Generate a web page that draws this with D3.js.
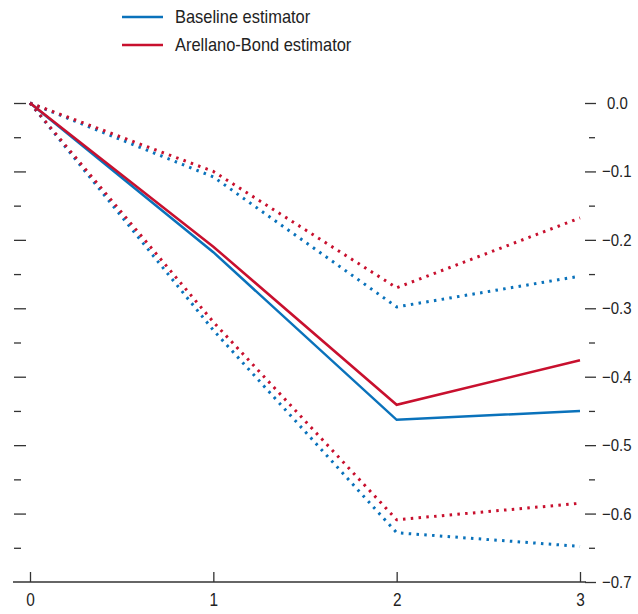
<!DOCTYPE html>
<html><head><meta charset="utf-8">
<script src="https://cdn.jsdelivr.net/npm/d3@7"></script>
<style>body{margin:0;background:#fff}svg{display:block}text{font-family:"Liberation Sans",Arial,sans-serif;fill:#222}</style>
</head><body><svg id="c" width="638" height="614"></svg>
<script>
const horizons = [0, 1, 2, 3];
const baseline = [0, -0.218, -0.463, -0.450];
const baselineUpper = [0, -0.108, -0.298, -0.253];
const baselineLower = [0, -0.332, -0.628, -0.648];
const arellano = [0, -0.210, -0.441, -0.376];
const arellanoUpper = [0, -0.100, -0.270, -0.168];
const arellanoLower = [0, -0.320, -0.609, -0.585];
const yTicks = [0, -0.1, -0.2, -0.3, -0.4, -0.5, -0.6, -0.7];
const yMinorTicks = [-0.05, -0.15, -0.25, -0.35, -0.45, -0.55, -0.65];
const legendLabels = ["Baseline estimator", "Arellano-Bond estimator"];
const BLUE = "#0a72bb", RED = "#c8102e";
const SX = 0.88;

const svg = d3.select("#c");
const x = d3.scaleLinear().domain([0, 3]).range([30, 580]);
const y = d3.scaleLinear().domain([0, -0.7]).range([103, 582]);

// right axis
const rightMajor = d3.axisRight(y).tickValues(yTicks).tickSize(11).tickPadding(4).tickFormat(d3.format(".1f"));
const gR = svg.append("g").attr("transform", "translate(585,0)").call(rightMajor);
gR.select(".domain").remove();
gR.selectAll("text").style("font-size", "17px")
  .attr("x", d => (d === 0 ? 22 : 17) / SX).attr("transform", `scale(${SX},1)`);
const gRm = svg.append("g").attr("transform", "translate(589,0)").call(d3.axisRight(y).tickValues(yMinorTicks).tickSize(6).tickFormat(""));
gRm.select(".domain").remove();

// left axis ticks (no labels)
const gL = svg.append("g").attr("transform", "translate(14,0)").call(d3.axisRight(y).tickValues(yTicks.slice(0, -1)).tickSize(12).tickFormat(""));
gL.select(".domain").remove();
const gLm = svg.append("g").attr("transform", "translate(14,0)").call(d3.axisRight(y).tickValues(yMinorTicks).tickSize(7).tickFormat(""));
gLm.select(".domain").remove();
svg.selectAll(".tick line").attr("stroke", "#333").attr("stroke-width", 1.3);

// x axis
const gX = svg.append("g").attr("transform", "translate(0,582)")
  .call(d3.axisBottom(x).tickValues(horizons).tickSize(-10).tickPadding(10).tickFormat(d3.format("d")));
gX.select(".domain").attr("d", "M13,0H586").attr("stroke", "#333").attr("stroke-width", 1.3);
gX.selectAll(".tick line").attr("stroke", "#333").attr("stroke-width", 1.3);
gX.selectAll("text").style("font-size", "17.5px").attr("dy", "0.8em").attr("transform", `scale(${SX},1)`);

const line = d3.line().x((d, i) => x(horizons[i])).y(d => y(d));
function draw(data, color, dotted) {
  const p = svg.append("path").datum(data).attr("d", line).attr("fill", "none")
    .attr("stroke", color).attr("stroke-width", dotted ? 3 : 2.5);
  if (dotted) p.attr("stroke-dasharray", "2.5,5.3");
}
draw(baselineUpper, BLUE, true);
draw(baselineLower, BLUE, true);
draw(arellanoUpper, RED, true);
draw(arellanoLower, RED, true);
draw(baseline, BLUE, false);
draw(arellano, RED, false);

// legend
const colors = [BLUE, RED];
legendLabels.forEach((lab, i) => {
  const ly = 17 + i * 28;
  svg.append("line").attr("x1", 122).attr("x2", 163).attr("y1", ly).attr("y2", ly)
    .attr("stroke", colors[i]).attr("stroke-width", 2.5);
  svg.append("g").attr("transform", `translate(175,${ly})`)
    .append("text").attr("dy", "0.35em").attr("transform", "scale(0.94,1)")
    .style("font-size", "17.5px").text(lab);
});
</script></body></html>
